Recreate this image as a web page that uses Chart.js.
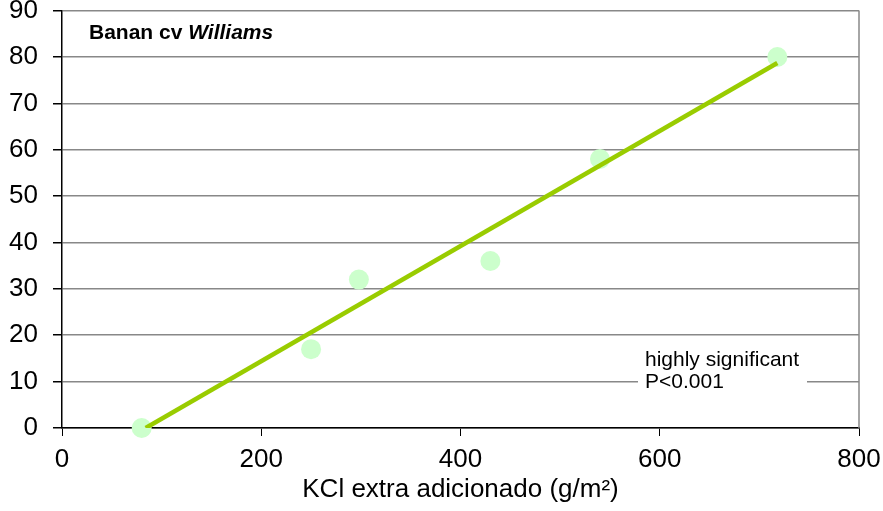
<!DOCTYPE html>
<html>
<head>
<meta charset="utf-8">
<script src="https://cdn.jsdelivr.net/npm/chart.js@4"></script>
<style>
  html, body { margin: 0; padding: 0; background: #fff; }
  #wrap { width: 883px; height: 511px; overflow: hidden; position: relative; }
  #myChart { position: absolute; left: 0; top: -20px; display: block; }
</style>
</head>
<body>
<div id="wrap"><canvas id="myChart" width="883" height="531"></canvas></div>
<script>
// KCl added (g/m2) vs response, banana cv Williams
const kclAdded = [80, 250, 298, 430, 540, 718];
const response = [0, 17, 32, 36, 58, 80];

// fitted line, two ends
const trendX = [84, 718];
const trendY = [0, 78.7];

const xTicks = [0, 200, 400, 600, 800];
const yTicks = [0, 10, 20, 30, 40, 50, 60, 70, 80, 90];

const fontFamily = "'Liberation Sans', Arial, sans-serif";

function toPoints(xs, ys) {
  return xs.map(function (x, i) { return { x: x, y: ys[i] }; });
}

// right frame line, note box and the cultivar label
const extras = {
  id: 'extras',
  beforeDatasetsDraw(chart) {
    const ctx = chart.ctx;
    const a = chart.chartArea;
    ctx.save();
    ctx.strokeStyle = '#888';
    ctx.lineWidth = 1.5;
    ctx.beginPath();
    ctx.moveTo(a.right, a.top);
    ctx.lineTo(a.right, a.bottom);
    ctx.stroke();

    // note box sits over the gridline
    ctx.fillStyle = '#fff';
    ctx.fillRect(a.left + 576, a.top + 335, 169, 52);
    ctx.fillStyle = '#000';
    ctx.font = '21px ' + fontFamily;
    ctx.textBaseline = 'alphabetic';
    ctx.fillText('highly significant', a.left + 583, a.top + 355);
    ctx.fillText('P<0.001', a.left + 583, a.top + 377);

    ctx.font = 'bold 21px ' + fontFamily;
    ctx.fillText('Banan cv ', a.left + 27, a.top + 28);
    const w = ctx.measureText('Banan cv ').width;
    ctx.font = 'italic bold 21px ' + fontFamily;
    ctx.fillText('Williams', a.left + 27 + w, a.top + 28);
    ctx.restore();
  }
};

function renderChart() {
  const data = {
    datasets: [{
      type: 'line',
      label: 'fit',
      data: toPoints(trendX, trendY),
      borderColor: '#99cc00',
      borderWidth: 4.5,
      pointRadius: 0,
      fill: false,
      order: 0
    }, {
      type: 'scatter',
      label: 'Banan',
      data: toPoints(kclAdded, response),
      backgroundColor: '#ccffcc',
      borderWidth: 0,
      pointRadius: 10,
      clip: false,
      order: 1
    }]
  };

  const options = {
    responsive: false,
    animation: false,
    layout: { padding: { top: 30, right: 24, left: 0, bottom: 0 } },
    plugins: { legend: { display: false }, tooltip: { enabled: false } },
    scales: {
      x: {
        type: 'linear',
        min: 0,
        max: 800,
        afterBuildTicks: function (scale) { scale.ticks = xTicks.map(function (v) { return { value: v }; }); },
        afterFit: function (scale) { scale.height = 83; scale.paddingRight = 24; },
        grid: { drawOnChartArea: false, tickLength: 8, color: '#000', tickColor: '#000' },
        border: { color: '#000', width: 1.5 },
        ticks: { color: '#000', padding: 8, font: { size: 26, family: fontFamily }, maxRotation: 0 },
        title: {
          display: true,
          text: 'KCl extra adicionado (g/m²)',
          color: '#000',
          font: { size: 26, family: fontFamily },
          padding: { top: 0, bottom: 6 }
        }
      },
      y: {
        min: 0,
        max: 90,
        afterBuildTicks: function (scale) { scale.ticks = yTicks.map(function (v) { return { value: v }; }); },
        afterFit: function (scale) { scale.width = 62; },
        grid: { color: '#888', lineWidth: 1.5, tickLength: 9, tickColor: '#000' },
        border: { color: '#000', width: 1.5 },
        ticks: { color: '#000', padding: 15, font: { size: 26, family: fontFamily } }
      }
    }
  };

  const ctx = document.getElementById('myChart').getContext('2d');
  new Chart(ctx, { data: data, options: options, plugins: [extras] });
}

renderChart();
</script>
</body>
</html>
